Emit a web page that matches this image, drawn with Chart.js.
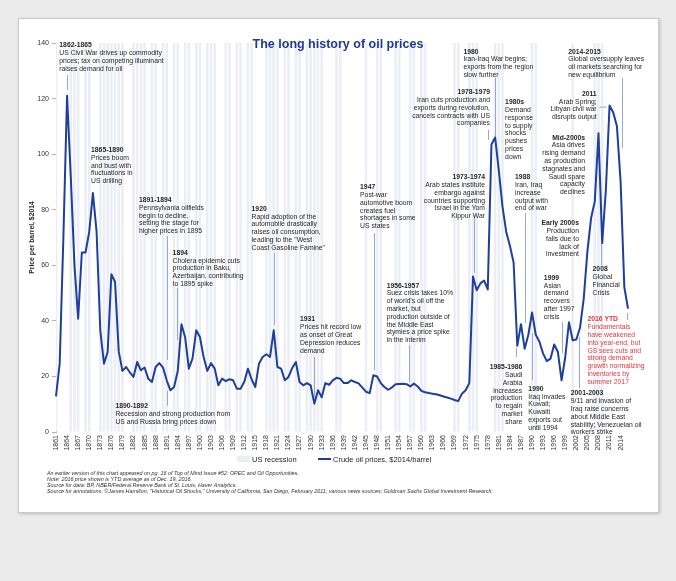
<!DOCTYPE html>
<html>
<head>
<meta charset="utf-8">
<style>
  html, body { margin: 0; padding: 0; background: #ebebeb; }
  #wrap { position: relative; width: 676px; height: 581px; overflow: hidden; }
  #card { position: absolute; left: 18px; top: 18px; width: 639px; height: 493px; background: #fff;
          border: 1px solid #c9c9c9; box-shadow: 1px 1px 3px rgba(0,0,0,0.2); }
  canvas { position: absolute; left: 0; top: 0; }
</style>
<script src="https://cdn.jsdelivr.net/npm/chart.js@4/dist/chart.umd.min.js"></script>
</head>
<body>
<div id="wrap">
  <div id="card"></div>
  <canvas id="chart" width="676" height="581"></canvas>
</div>
<script>
'use strict';

// **** Data ****

const firstYear = 1861;
const lastYear = 2016;

// crude oil price, $2014 per barrel, one value per year 1861-2016
const oilPrices = [
  12.8, 24.6, 70, 121, 92, 60, 40.8, 64.6, 64.6, 72,          // 1861-1870
  86, 72, 36.6, 24.6, 28.8, 56.8, 54, 29, 22, 23.4,           // 1871-1880
  21.5, 19.8, 25.2, 22.2, 23.2, 19.2, 18, 23.4, 24.8, 23.2,   // 1881-1890
  18.6, 15, 16.2, 22, 38.8, 34, 22.8, 26.5, 36.6, 34.2,       // 1891-1900
  27, 22, 24.8, 22.8, 16.8, 19.2, 18.3, 19, 18.6, 15.6,       // 1901-1910
  15.6, 18, 22.8, 19, 16.2, 24.6, 27, 28, 27, 36.6,           // 1911-1920
  23.4, 22.8, 18.6, 19.8, 23, 25.2, 18, 16.8, 17.6, 16.8,     // 1921-1930
  10.2, 15, 12.5, 17.6, 17, 18.6, 19.5, 19.2, 17.6, 17.6,     // 1931-1940
  18.6, 18, 17.5, 16, 14.5, 14, 20.4, 20, 17.6, 16.2,         // 1941-1950
  15.2, 16, 17.2, 17.3, 17.4, 17.2, 16.4, 17.4, 16.4, 14.8,   // 1951-1960
  14.3, 14, 13.8, 13.6, 13.2, 12.8, 12.4, 12, 11.5, 11.1,     // 1961-1970
  13.8, 15, 17.6, 56, 51, 53.5, 54.5, 51.3, 103.5, 106,       // 1971-1980
  94, 81, 72, 67, 61, 31, 38.8, 30, 35, 43,                   // 1981-1990
  35, 32.5, 28.2, 25.5, 26.4, 31.5, 28.8, 18.6, 27, 39.5,     // 1991-2000
  33, 33.3, 37.5, 48, 65, 77, 83, 107.5, 68, 87,              // 2001-2010
  117.5, 115, 110, 90, 52.2, 44.4                             // 2011-2016
];

// years with a US recession (NBER)
const recessionYears = [
  1861, 1865, 1866, 1867, 1869, 1870, 1873, 1874, 1875, 1876, 1877, 1878, 1879,
  1882, 1883, 1884, 1885, 1887, 1888, 1890, 1891, 1893, 1894, 1896, 1897,
  1899, 1900, 1902, 1903, 1904, 1907, 1908, 1910, 1911, 1913, 1914,
  1918, 1919, 1920, 1921, 1923, 1924, 1926, 1927, 1929, 1930, 1931, 1932, 1933,
  1937, 1938, 1945, 1948, 1949, 1953, 1954, 1957, 1958, 1960, 1961,
  1969, 1970, 1973, 1974, 1975, 1980, 1981, 1982, 1990, 1991, 2001, 2007, 2008, 2009
];

const yTicks = [0, 20, 40, 60, 80, 100, 120, 140];
const labelEvery = 3;

// annotations: anchor is [year, price] of first baseline
const notes = [
  { at: [1861.9, 138.4], head: '1862-1865', body: ['US Civil War drives up commodity', 'prices; tax on competing illuminant', 'raises demand for oil'] },
  { at: [1870.5, 100.8], head: '1865-1890', body: ['Prices boom', 'and bust with', 'fluctuations in', 'US drilling'] },
  { at: [1883.5, 82.8], head: '1891-1894', body: ['Pennsylvania oilfields', 'begin to decline,', 'setting the stage for', 'higher prices in 1895'] },
  { at: [1892.6, 63.8], head: '1894', body: ['Cholera epidemic cuts', 'production in Baku,', 'Azerbaijan, contributing', 'to 1895 spike'] },
  { at: [1877.1, 8.5], head: '1890-1892', body: ['Recession and strong production from', 'US and Russia bring prices down'] },
  { at: [1914.0, 79.6], head: '1920', body: ['Rapid adoption of the', 'automobile drastically', 'raises oil consumption,', 'leading to the "West', 'Coast Gasoline Famine"'] },
  { at: [1927.1, 39.8], head: '1931', body: ['Prices hit record low', 'as onset of Great', 'Depression reduces', 'demand'] },
  { at: [1943.4, 87.4], head: '1947', body: ['Post-war', 'automotive boom', 'creates fuel', 'shortages in some', 'US states'] },
  { at: [1950.6, 52.0], head: '1956-1957', body: ['Suez crisis takes 10%', "of world's oil off the", 'market, but', 'production outside of', 'the Middle East', 'stymies a price spike', 'in the interim'] },
  { at: [1977.25, 91.0], align: 'right', head: '1973-1974', body: ['Arab states institute', 'embargo against', 'countries supporting', 'Israel in the Yom', 'Kippur War'] },
  { at: [1978.6, 121.6], align: 'right', head: '1978-1979', body: ['Iran cuts production and', 'exports during revolution,', 'cancels contracts with US', 'companies'] },
  { at: [1971.4, 136.2], head: '1980', body: ['Iran-Iraq War begins;', 'exports from the region', 'slow further'] },
  { at: [1982.7, 118.0], head: '1980s', body: ['Demand', 'response', 'to supply', 'shocks', 'pushes', 'prices', 'down'] },
  { at: [1985.4, 91.0], head: '1988', body: ['Iran, Iraq', 'increase', 'output with', 'end of war'] },
  { at: [2004.35, 105.2], align: 'right', head: 'Mid-2000s', body: ['Asia drives', 'rising demand', 'as production', 'stagnates and', 'Saudi spare', 'capacity', 'declines'] },
  { at: [2002.7, 74.4], align: 'right', head: 'Early 2000s', body: ['Production', 'falls due to', 'lack of', 'investment'] },
  { at: [1993.2, 54.8], head: '1999', body: ['Asian', 'demand', 'recovers', 'after 1997', 'crisis'] },
  { at: [2006.4, 57.8], head: '2008', body: ['Global', 'Financial', 'Crisis'] },
  { at: [2005.0, 39.8], head: '2016 YTD', red: true, body: ['Fundamentals', 'have weakened', 'into year-end, but', 'GS sees cuts and', 'strong demand', 'growth normalizing', 'inventories by', 'summer 2017'] },
  { at: [2007.5, 121.0], align: 'right', head: '2011', body: ['Arab Spring;', 'Libyan civil war', 'disrupts output'] },
  { at: [1999.8, 136.2], head: '2014-2015', body: ['Global oversupply leaves', 'oil markets searching for', 'new equilibrium'] },
  { at: [1987.35, 22.6], align: 'right', head: '1985-1986', body: ['Saudi', 'Arabia', 'increases', 'production', 'to regain', 'market', 'share'] },
  { at: [1989.0, 14.8], head: '1990', body: ['Iraq invades', 'Kuwait;', 'Kuwaiti', 'exports out', 'until 1994'] },
  { at: [2000.5, 13.2], head: '2001-2003', body: ['9/11 and invasion of', 'Iraq raise concerns', 'about Middle East', 'stability; Venezuelan oil', 'workers strike'] }
];

// leader lines: [year1, price1, year2, price2]
const leaders = [
  [1864, 128.5, 1864, 123.1],
  [1891, 70.5, 1891, 25.9],
  [1893.8, 51.8, 1893.8, 33.1],
  [1891, 14.8, 1891, 9.5],
  [1920.15, 64.4, 1920.15, 38.5],
  [1931, 27.0, 1931, 12.6],
  [1947.25, 71.6, 1947.25, 22.3],
  [1956.65, 31.3, 1956.65, 18.0],
  [1974.27, 78.1, 1974.27, 57.2],
  [1978.14, 108.7, 1978.14, 105.1],
  [1979.96, 127.4, 1979.96, 106.2],
  [1988.09, 78.8, 1988.09, 39.2],
  [1998.2, 39.6, 1998.2, 28.4],
  [2008.68, 68.0, 2008.68, 60.1],
  [2015.81, 42.8, 2015.81, 40.3],
  [2008.22, 116.9, 2010.04, 116.9],
  [2014.28, 127.4, 2014.28, 102.2],
  [1985.65, 30.2, 1985.65, 27.0],
  [1990.07, 35.6, 1990.07, 18.7],
  [2002.72, 34.2, 2002.72, 15.8]
];

const footnotes = [
  'An earlier version of this chart appeared on pg. 16 of Top of Mind Issue #52: OPEC and Oil Opportunities.',
  'Note: 2016 price shown is YTD average as of Dec. 19, 2016.',
  'Source for data: BP, NBER/Federal Reserve Bank of St. Louis, Haver Analytics.',
  'Source for annotations: \u00A9James Hamilton, "Historical Oil Shocks," University of California, San Diego, February 2011; various news sources; Goldman Sachs Global Investment Research.'
];

// **** Styles ****

const FONT = '"Liberation Sans", Arial, Helvetica, sans-serif';
const lineBlue = '#1e3f9c';
const recessionColor = '#eceef6';
const leaderColor = '#93a7d8';
const textColor = '#262626';
const redText = '#e8393f';

// **** Helpers ****

let years = [];
for (let yr = firstYear; yr <= lastYear; yr++) {
  years.push(String(yr));
}

let recessionBars = years.map(function (yr) {
  return recessionYears.includes(Number(yr)) ? yTicks[yTicks.length - 1] : null;
});

function drawNote(ctx, px, py, note) {
  let x = px(note.at[0]);
  let y = py(note.at[1]);
  let lh = 7.8;
  ctx.textAlign = note.align || 'left';
  ctx.textBaseline = 'alphabetic';
  ctx.fillStyle = note.red ? redText : textColor;
  ctx.font = 'bold 6.8px ' + FONT;
  ctx.fillText(note.head, x, y);
  ctx.font = '6.8px ' + FONT;
  for (let i = 0; i < note.body.length; i++) {
    ctx.fillText(note.body[i], x, y + lh * (i + 1));
  }
}

// **** Plugin for the extra text ****

const decorations = {
  id: 'decorations',
  afterDatasetDraw(chart, args) {
    if (args.index !== 0) return;
    const { ctx, scales } = chart;
    const px = (yr) => scales.x.getPixelForValue(yr - firstYear);
    const py = (v) => scales.y.getPixelForValue(v);
    ctx.save();
    ctx.strokeStyle = leaderColor;
    ctx.lineWidth = 1;
    leaders.forEach(function (l) {
      ctx.beginPath();
      ctx.moveTo(Math.round(px(l[0])) + 0.5, py(l[1]));
      ctx.lineTo(Math.round(px(l[2])) + 0.5, py(l[3]));
      ctx.stroke();
    });
    ctx.restore();
  },
  afterDraw(chart) {
    const { ctx, scales, chartArea } = chart;
    const px = (yr) => scales.x.getPixelForValue(yr - firstYear);
    const py = (v) => scales.y.getPixelForValue(v);
    ctx.save();

    // title
    ctx.fillStyle = '#1f3a93';
    ctx.font = 'bold 12.5px ' + FONT;
    ctx.textAlign = 'center';
    ctx.fillText('The long history of oil prices', 338, 48);

    notes.forEach(function (n) { drawNote(ctx, px, py, n); });

    // legend
    let ly = chartArea.bottom + 27;
    ctx.fillStyle = recessionColor;
    ctx.fillRect(237, ly - 3, 13, 6);
    ctx.strokeStyle = lineBlue;
    ctx.lineWidth = 2;
    ctx.beginPath();
    ctx.moveTo(318, ly);
    ctx.lineTo(331, ly);
    ctx.stroke();
    ctx.fillStyle = textColor;
    ctx.font = '7.5px ' + FONT;
    ctx.textAlign = 'left';
    ctx.textBaseline = 'middle';
    ctx.fillText('US recession', 252, ly + 0.5);
    ctx.fillText('Crude oil prices, $2014/barrel', 333, ly + 0.5);

    // footnotes
    ctx.textBaseline = 'alphabetic';
    ctx.fillStyle = '#333';
    ctx.font = 'italic 5.4px ' + FONT;
    footnotes.forEach(function (t, i) {
      ctx.fillText(t, 47, 474.5 + i * 6.2);
    });
    ctx.restore();
  }
};

// **** Chart ****

let chartCanvas = document.getElementById('chart');

new Chart(chartCanvas, {
  data: {
    labels: years,
    datasets: [{
      type: 'bar',
      label: 'US recession',
      data: recessionBars,
      backgroundColor: recessionColor,
      barPercentage: 0.7,
      categoryPercentage: 1,
      order: 1
    },
    {
      type: 'line',
      label: 'Crude oil prices, $2014/barrel',
      data: oilPrices,
      borderColor: lineBlue,
      borderWidth: 2,
      pointRadius: 0,
      tension: 0,
      borderJoinStyle: 'round',
      order: 0
    }]
  },
  options: {
    responsive: false,
    animation: false,
    layout: {
      padding: { left: 18, right: 48, top: 43, bottom: 109 }
    },
    plugins: {
      legend: { display: false },
      tooltip: { enabled: false }
    },
    scales: {
      x: {
        type: 'category',
        offset: false,
        grid: { display: false, drawTicks: false },
        border: { display: false },
        ticks: {
          autoSkip: false,
          minRotation: 90,
          maxRotation: 90,
          padding: 3,
          color: '#333',
          font: { family: FONT, size: 7 },
          callback: function (value, index) {
            return index % labelEvery === 0 ? this.getLabelForValue(value) : null;
          }
        },
        afterFit: function (scale) { scale.height = 40; }
      },
      y: {
        min: yTicks[0],
        max: yTicks[yTicks.length - 1],
        grid: { drawOnChartArea: false, drawTicks: true, tickLength: 4, color: '#b5b5b5' },
        border: { display: true, color: '#b5b5b5' },
        ticks: {
          stepSize: 20,
          padding: 3,
          color: '#333',
          font: { family: FONT, size: 7 }
        },
        title: {
          display: true,
          text: 'Price per barrel, $2014',
          color: textColor,
          font: { family: FONT, size: 6.8, weight: 'bold' },
          padding: { top: 10, bottom: 0 }
        },
        afterFit: function (scale) { scale.width = 38; }
      }
    }
  },
  plugins: [decorations]
});
</script>
</body>
</html>
